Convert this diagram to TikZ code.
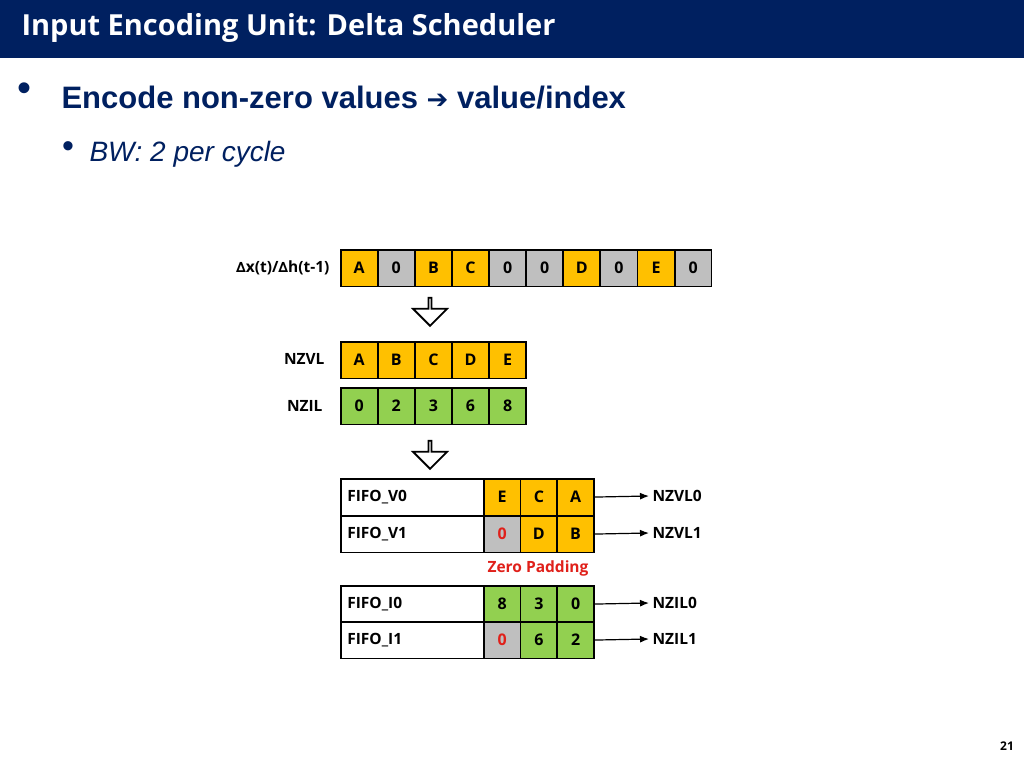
\documentclass[tikz,border=0pt]{standalone}
\usepackage{fontspec}
\setmainfont{Liberation Sans}
\newfontfamily\osans{Open Sans}
\usetikzlibrary{shapes.arrows,arrows.meta}
\definecolor{navy}{HTML}{002060}
\definecolor{org}{HTML}{FFC000}
\definecolor{gry}{HTML}{BFBFBF}
\definecolor{grn}{HTML}{92D050}
\definecolor{zred}{HTML}{E0201A}
\begin{document}
\begin{tikzpicture}[x=1pt,y=-1pt,
  cell/.style={draw=black,line width=1.6pt,minimum width=36.8pt,minimum height=36.5pt,inner sep=0pt,font=\osans\bfseries\fontsize{16}{16}\selectfont,anchor=north west},
  lab/.style={font=\osans\bfseries\fontsize{15.5}{15.5}\selectfont},
  harrow/.style={single arrow,draw=black,line width=1.8pt,fill=white,shape border rotate=270,minimum height=28pt,minimum width=34pt,single arrow head extend=9pt,inner sep=0pt},
  conn/.style={-{Latex[length=9pt,width=7pt]},line width=1.2pt}]
\useasboundingbox (0,0) rectangle (1024,768);
\fill[white] (0,0) rectangle (1024,768);
\fill[navy] (0,0) rectangle (1024,58);
\node[anchor=west,text=white,font=\osans\bfseries\fontsize{29}{29}\selectfont] (title) at (18,28) {Input Encoding Unit: Delta Scheduler};
\node[font=\fontsize{40}{40}\selectfont,text=navy] (b1) at (25,92) {•};
\node[anchor=west,font=\bfseries\fontsize{31}{31}\selectfont,text=navy] (t1) at (58,98) {Encode non-zero values {\fontspec{DejaVu Sans}\fontsize{26}{26}\selectfont ➔} value/index};
\node[font=\fontsize{34}{34}\selectfont,text=navy] (b2) at (68,150) {•};
\node[anchor=west,font=\itshape\fontsize{28}{28}\selectfont,text=navy] (t2) at (86,154) {BW: 2 per cycle};
% top row
\node[lab,anchor=east] (dl) at (333,268) {{\fontspec{DejaVu Sans}\fontsize{14}{14}\selectfont ∆}x(t)/{\fontspec{DejaVu Sans}\fontsize{14}{14}\selectfont ∆}h(t-1)};
\foreach \t/\c [count=\i from 0] in {A/org,0/gry,B/org,C/org,0/gry,0/gry,D/org,0/gry,E/org,0/gry}
  \node[cell,fill=\c] (r\i) at (340+\i*37.1,249) {\t};
\node[harrow] (a1) at (430,311) {};
\node[lab,anchor=east] (nzvl) at (328,359) {NZVL};
\foreach \t [count=\i from 0] in {A,B,C,D,E}
  \node[cell,fill=org] (v\i) at (340+\i*37.1,341) {\t};
\node[lab,anchor=east] (nzil) at (326,406) {NZIL};
\foreach \t [count=\i from 0] in {0,2,3,6,8}
  \node[cell,fill=grn] (n\i) at (340+\i*37.1,387) {\t};
\node[harrow] (a2) at (430,454) {};
\foreach \y/\nm/\ta/\ca/\tb/\tc/\out [count=\k] in {478/FIFO\_V0/E/org/C/A/NZVL0,515/FIFO\_V1/{\color{zred}0}/gry/D/B/NZVL1,585/FIFO\_I0/8/grn/3/0/NZIL0,621/FIFO\_I1/{\color{zred}0}/gry/6/2/NZIL1}{
  \node[cell,minimum width=143pt,text width=130pt,align=left,fill=white,font=\osans\bfseries\fontsize{15.5}{15.5}\selectfont] (f\k) at (340,\y) {\nm};
  \node[cell,fill=\ca] (fa\k) at (483,\y) {\ta};
  \ifnum\k<3 \def\cc{org}\else\def\cc{grn}\fi
  \node[cell,fill=\cc] (fb\k) at (519.7,\y) {\tb};
  \node[cell,fill=\cc] (fc\k) at (556.4,\y) {\tc};
  \node[lab,anchor=west] (o\k) at (649,\y+18) {\out};
  \draw[conn] (fc\k.east) -- (o\k.west);
}
\node[lab,text=zred] (zp) at (538,568) {Zero Padding};
\node[font=\osans\bfseries\fontsize{12}{12}\selectfont] (pg) at (1007,746) {21};
\end{tikzpicture}
\end{document}
